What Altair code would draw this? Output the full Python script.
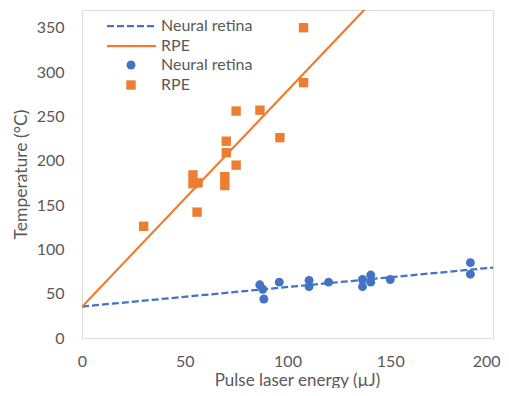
import altair as alt
import pandas as pd

# Data
nr_energy = [86.5, 88, 88.5, 96, 110.5, 110.5, 120, 136.5, 136.5, 140.5, 140.5, 150, 189, 189]
nr_temp = [60, 55, 44, 63, 65, 58, 63, 66, 58, 71, 63, 66, 85, 72]
rpe_energy = [30, 54, 54, 56.5, 56, 69.5, 69.5, 70.2, 70.2, 75, 75, 86.6, 96.3, 107.8, 107.8]
rpe_temp = [126, 184, 174, 175, 142, 182, 172, 222, 209, 256, 195, 257, 226, 350, 288]

x_ticks = [0, 50, 100, 150, 200]
y_ticks = [0, 50, 100, 150, 200, 250, 300, 350]
legend_labels = ["Neural retina", "RPE", "Neural retina", "RPE"]

BLUE = "#4472C4"
ORANGE = "#ED7D31"
GRAY = "#595959"
FONT = "Lato"

nr = pd.DataFrame({"energy": nr_energy, "temp": nr_temp})
rpe = pd.DataFrame({"energy": rpe_energy, "temp": rpe_temp})

xs = alt.Scale(domain=[0, 200], nice=False)
ys = alt.Scale(domain=[0, 370], nice=False)

xax = alt.Axis(values=x_ticks, grid=False, ticks=False, tickSize=0, domain=False,
               labelFlush=False, labelBaseline="alphabetic", labelPadding=28,
               labelAlign={"condition": {"test": "datum.value == 200", "value": "right"}, "value": "center"},
               labelOffset={"condition": {"test": "datum.value == 200", "value": 7}, "value": 0},
               labelFontSize=16, labelColor=GRAY, labelFont=FONT,
               title="Pulse laser energy (µJ)", titleFont=FONT, titleFontSize=17,
               titleFontWeight="normal", titleColor=GRAY, titleBaseline="alphabetic",
               titleX=215, titleY=47, titleAnchor="middle")
yax = alt.Axis(values=y_ticks, grid=False, ticks=False, tickSize=0, domain=False,
               labelFlush=False, labelPadding=18, labelFontSize=16, labelColor=GRAY,
               labelFont=FONT, labelBaseline="middle",
               title="Temperature (°C)", titleFont=FONT, titleFontSize=17.5,
               titleFontWeight="normal", titleColor=GRAY, titleBaseline="alphabetic",
               titleX=-56, titleY=164, titleAngle=-90, titleAnchor="middle")

nr_pts = alt.Chart(nr).mark_circle(size=80, color=BLUE, opacity=1).encode(
    x=alt.X("energy:Q", scale=xs, axis=xax),
    y=alt.Y("temp:Q", scale=ys, axis=yax),
)
rpe_pts = alt.Chart(rpe).mark_square(size=88, color=ORANGE, opacity=1).encode(
    x=alt.X("energy:Q", scale=xs),
    y=alt.Y("temp:Q", scale=ys),
)
nr_fit = alt.Chart(nr).transform_regression("energy", "temp", extent=[0, 200]).mark_line(
    color=BLUE, strokeWidth=2.25, strokeDash=[7, 3], clip=True
).encode(x=alt.X("energy:Q", scale=xs), y=alt.Y("temp:Q", scale=ys))
rpe_fit = alt.Chart(rpe).transform_regression("energy", "temp", extent=[0, 200]).mark_line(
    color=ORANGE, strokeWidth=2.25, clip=True
).encode(x=alt.X("energy:Q", scale=xs), y=alt.Y("temp:Q", scale=ys))

# Legend (inside plot, top-left)
rows = [16, 36, 55, 75]
leg = []
leg.append(alt.Chart(pd.DataFrame({"a": [0]})).mark_rule(color=BLUE, strokeWidth=2.25, strokeDash=[7, 3]).encode(
    x=alt.value(25), x2=alt.value(74), y=alt.value(rows[0])))
leg.append(alt.Chart(pd.DataFrame({"a": [0]})).mark_rule(color=ORANGE, strokeWidth=2.25).encode(
    x=alt.value(25), x2=alt.value(74), y=alt.value(rows[1])))
leg.append(alt.Chart(pd.DataFrame({"a": [0]})).mark_circle(size=80, color=BLUE, opacity=1).encode(
    x=alt.value(49), y=alt.value(rows[2])))
leg.append(alt.Chart(pd.DataFrame({"a": [0]})).mark_square(size=88, color=ORANGE, opacity=1).encode(
    x=alt.value(49), y=alt.value(rows[3])))
for lab, r in zip(legend_labels, rows):
    leg.append(alt.Chart(pd.DataFrame({"label": [lab]})).mark_text(
        align="left", baseline="middle", font=FONT, fontSize=16, color=GRAY
    ).encode(x=alt.value(79), y=alt.value(r), text="label:N"))

chart = alt.layer(nr_pts, rpe_pts, nr_fit, rpe_fit, *leg).properties(
    width=411, height=328,
    autosize=alt.AutoSizeParams(type="none"),
    padding={"left": 74, "top": 2, "right": 8, "bottom": 50},
).configure_view(stroke="black", strokeWidth=1.5).configure(background="white")

chart.save("out.html", embed_options={"renderer": "svg", "actions": False})
